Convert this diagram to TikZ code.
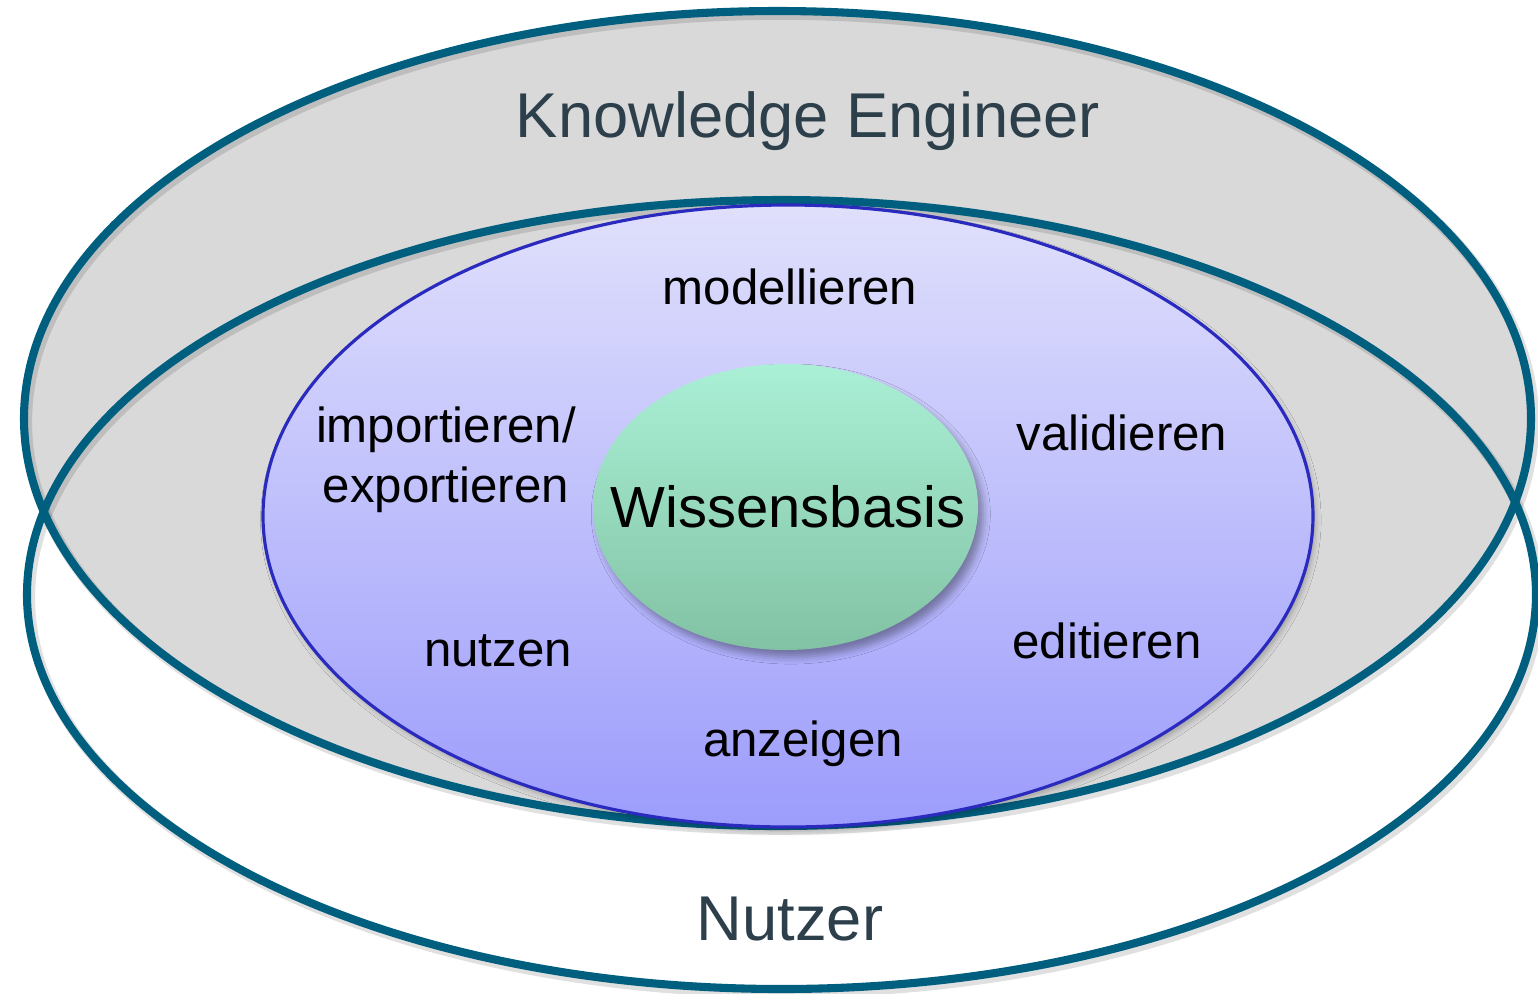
\documentclass[tikz,border=0pt]{standalone}
\usepackage{fontspec}
\setmainfont{Liberation Sans}
\usetikzlibrary{shapes.geometric, shadows.blur}

\definecolor{ring}{HTML}{005F7F}
\definecolor{ringtext}{HTML}{2C3F4A}
\definecolor{kegray}{HTML}{D9D9D9}
\definecolor{blueedge}{HTML}{2A2ABF}
\definecolor{bluetop}{HTML}{E0E0FC}
\definecolor{bluebottom}{HTML}{9C9CFC}
\definecolor{greentop}{HTML}{AAF0D6}
\definecolor{greenbottom}{HTML}{82C2A4}

\begin{document}
\begin{tikzpicture}[x=0.01cm, y=-0.01cm]
  \tikzstyle{ring}=[draw=ring, line width=2.3pt]
  \tikzstyle{ringshadow}=[draw=black, opacity=0.12, line width=3pt, xshift=0.8pt, yshift=-1pt]
  \tikzstyle{title}=[font=\fontsize{18}{21}\selectfont, text=ringtext, anchor=base]
  \tikzstyle{task}=[font=\fontsize{14}{16.8}\selectfont, anchor=base, align=center]
  \useasboundingbox (0,0) rectangle (1538,993);

  % knowledge engineer and user areas
  \fill[kegray] (777.5,418.5) ellipse [x radius=753.5, y radius=407.5];
  \draw[ringshadow] (777.5,418.5) ellipse [x radius=753.5, y radius=407.5];
  \draw[ringshadow] (781.5,594.5) ellipse [x radius=754.5, y radius=394.5];
  \draw[ring] (777.5,418.5) ellipse [x radius=753.5, y radius=407.5];
  \draw[ring] (781.5,594.5) ellipse [x radius=754.5, y radius=394.5];

  % tasks area
  \path[draw=blueedge, line width=0.9pt, top color=bluetop, bottom color=bluebottom,
        blur shadow={shadow xshift=0.8pt, shadow yshift=-1.2pt, shadow blur radius=1.5pt, shadow opacity=25}]
    (788,516) ellipse [x radius=525, y radius=311];

  % knowledge base in the middle
  \path[top color=greentop, bottom color=greenbottom,
        blur shadow={shadow xshift=1.5pt, shadow yshift=-2pt, shadow blur radius=2pt, shadow opacity=35}]
    (785.5,507) ellipse [x radius=192.5, y radius=143];
  \node[font=\fontsize{16.5}{19.8}\selectfont] (wb) at (788,507) {Wissensbasis};

  \node[title] (ke) at (808,137) {Knowledge Engineer};
  \node[title] (nutzer) at (790,940) {Nutzer};

  \node[task] (modell) at (790,304) {modellieren};
  \node[task] (import) at (446,502) {importieren/\\exportieren};
  \node[task] (valid) at (1122,450) {validieren};
  \node[task] (nutzen) at (498,666) {nutzen};
  \node[task] (edit) at (1107,658) {editieren};
  \node[task] (anzeig) at (803,756) {anzeigen};
\end{tikzpicture}
\end{document}
